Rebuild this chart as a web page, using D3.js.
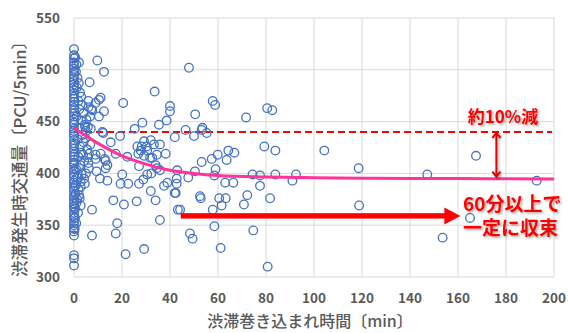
<!DOCTYPE html>
<html>
<head>
<meta charset="utf-8">
<script src="https://cdn.jsdelivr.net/npm/d3@7"></script>
<style>
  body { margin: 0; background: #fff; }
  text { font-family: "Noto Sans CJK JP", "Noto Sans", sans-serif; }
</style>
</head>
<body>
<div id="canvas"></div>
<script>
"use strict";

/* Data: tick labels */
let xTickValues = [0, 20, 40, 60, 80, 100, 120, 140, 160, 180, 200];
let yTickValues = [300, 350, 400, 450, 500, 550];

/* Data: traffic volume of points sitting at 0 min */
let zeroMinVolume = [
  311, 318, 321, 340, 344, 347, 350, 353, 357, 359, 362, 366, 368, 371, 374, 377,
  379, 383, 386, 388, 391, 393, 397, 399, 402, 404, 408, 410, 413, 416, 418, 421,
  424, 427, 429, 432, 436, 438, 441, 443, 447, 449, 452, 455, 458, 461, 463, 466,
  469, 472, 474, 477, 480, 483, 486, 489, 492, 495, 498, 501, 504, 507, 511, 514, 520
];

/* Data: other points [minutes, volume] */
let scatterPoints = [
  [0.5, 512], [1, 505], [2.1, 507], [0.8, 498], [1.5, 492], [2, 487], [1.2, 483], [2.5, 478],
  [3, 474], [1.8, 470], [3.5, 466], [2.2, 462], [4, 458], [1, 455], [3, 451], [4.5, 447],
  [2, 444], [5, 441], [3.5, 437], [1.5, 433], [4, 430], [2.5, 426], [5.5, 423], [3, 420],
  [1.8, 416], [4.2, 412], [2.6, 408], [0.9, 404], [3.2, 399], [1.4, 396], [2.8, 392], [0.7, 388],
  [1.9, 384], [0.6, 380], [2.4, 376], [1.1, 372], [0.5, 366], [1.7, 362], [0.4, 357], [0.9, 352],
  [0.3, 346], [1.3, 375], [2.1, 405], [3.8, 418], [4.8, 434], [5.2, 452], [6, 470], [6.5, 488],
  [7.2, 462], [5.8, 445], [6.8, 428], [6, 410], [5, 400], [4.5, 390], [6, 464], [6.7, 455],
  [4.6, 445], [12.2, 439], [28.2, 426], [34.5, 418], [26.8, 419],
  [9.7, 509], [12.5, 498], [33.6, 479], [20.5, 468], [40, 465], [40, 460], [10.4, 471],
  [11.1, 473], [9, 468], [12.5, 460], [10.4, 455], [7.6, 461], [28.5, 449], [38.6, 451],
  [35.4, 447], [25.3, 443], [42, 435], [11.8, 440], [7, 443], [19.2, 436], [15.3, 430],
  [26.4, 426], [29.2, 431], [32, 432], [30.3, 426], [33.3, 428], [35.8, 428], [27.8, 422],
  [30.5, 422], [29.2, 417], [31.7, 415], [38.2, 419], [11.1, 419], [9, 418], [5.8, 415],
  [12.8, 414], [17.4, 419], [22.2, 416],
  [47.9, 502], [57.8, 470], [58.8, 466], [50.5, 457], [71.7, 454], [80.5, 463], [82.6, 461],
  [46.5, 442], [50, 436], [53.5, 444], [53.2, 442], [55.3, 439], [79.3, 426], [83.9, 422],
  [64.3, 422], [66.8, 420], [63.6, 413], [59.9, 418], [57.4, 414], [53.2, 411], [59, 404],
  [50.4, 402], [43, 403], [74.4, 399], [77.5, 398], [83.9, 399], [58.5, 398], [47.6, 396],
  [42.8, 395],
  [42.8, 390], [42, 381], [63, 391], [66.4, 391], [77.5, 388], [52.5, 378], [52.8, 376],
  [60.5, 376], [63.2, 376], [61.5, 369], [72.2, 379], [70.8, 370], [81.7, 376], [44.2, 365],
  [57.8, 365], [58.5, 349], [48.3, 342], [49.4, 337], [74.7, 345], [61.1, 328], [80.7, 310],
  [6.2, 419], [9, 414], [13.2, 412], [13.9, 408], [13.2, 405], [9.4, 402], [6.2, 405],
  [10.8, 395], [13.9, 393], [4.2, 395], [2.8, 387], [2.1, 379], [2.8, 369], [7.5, 365],
  [7.5, 340], [18, 352], [17.4, 342], [21.5, 322], [29.2, 327], [16.4, 374], [20.8, 370],
  [26.1, 373], [20.1, 399], [19.4, 390], [22.6, 390], [27.1, 390], [28.9, 394], [30.5, 399],
  [32.2, 400], [34.5, 405], [35.8, 403], [34, 408], [32.6, 415], [27.1, 407], [37.5, 388],
  [38.9, 391], [32, 383], [34, 374], [35.8, 355], [42.4, 381], [43.3, 365],
  [104.3, 422], [92.5, 399], [91, 393], [118.6, 405], [118.8, 369],
  [147.2, 399], [192.8, 393], [165, 357], [153.6, 338], [167.5, 417]
];

/* Data: trend curve */
let trendMin = [0, 5, 10, 20, 30, 40, 50, 60, 80, 100, 120, 140, 160, 180, 200];
let trendVolume = [444, 436, 429, 417, 409, 403, 400, 398, 396.5, 395.8, 395.3, 395, 395, 394.8, 394.6];

/* Data: annotations */
let dashedLevel = 440;
let convergedLevel = 395;
let gapArrowMin = 176;
let longArrowMin = [44.5, 161];
let longArrowLevel = 359;
let reduceLabel = "約10%減";
let convergeLabel = ["60分以上で", "一定に収束"];

/* Drawing config */
let svgWidth = 568;
let svgHeight = 333;
let plotLeft = 74;
let plotRight = 554;
let plotTop = 18;
let plotBottom = 277;
let gray = "#595959";

let svg = d3.select("#canvas")
  .append("svg")
  .attr("width", svgWidth)
  .attr("height", svgHeight);

let defs = svg.append("defs");
let shadow = defs.append("filter")
  .attr("id", "shadow")
  .attr("x", "-20%").attr("y", "-20%")
  .attr("width", "140%").attr("height", "140%");
shadow.append("feDropShadow")
  .attr("dx", 1.5).attr("dy", 1.5)
  .attr("stdDeviation", 1)
  .attr("flood-color", "#000")
  .attr("flood-opacity", 0.35);

let xScale = d3.scaleLinear().domain([0, 200]).range([plotLeft, plotRight]);
let yScale = d3.scaleLinear().domain([300, 550]).range([plotBottom, plotTop]);

/* Grid */
svg.append("g")
  .selectAll("line")
  .data(xTickValues)
  .enter()
  .append("line")
  .attr("x1", function (d) { return xScale(d); })
  .attr("x2", function (d) { return xScale(d); })
  .attr("y1", plotTop)
  .attr("y2", plotBottom)
  .attr("stroke", "#d9d9d9")
  .attr("stroke-width", 1);

svg.append("g")
  .selectAll("line")
  .data(yTickValues)
  .enter()
  .append("line")
  .attr("x1", plotLeft)
  .attr("x2", plotRight)
  .attr("y1", function (d) { return yScale(d); })
  .attr("y2", function (d) { return yScale(d); })
  .attr("stroke", "#d9d9d9")
  .attr("stroke-width", 1);

/* Tick labels */
svg.append("g")
  .selectAll("text")
  .data(xTickValues)
  .enter()
  .append("text")
  .attr("x", function (d) { return xScale(d); })
  .attr("y", 303)
  .attr("text-anchor", "middle")
  .attr("font-size", "13.5px")
  .attr("font-weight", "bold")
  .attr("fill", gray)
  .text(function (d) { return String(d); });

svg.append("g")
  .selectAll("text")
  .data(yTickValues)
  .enter()
  .append("text")
  .attr("x", 60)
  .attr("y", function (d) { return yScale(d) + 4.5; })
  .attr("text-anchor", "end")
  .attr("font-size", "13.5px")
  .attr("font-weight", "bold")
  .attr("fill", gray)
  .text(function (d) { return String(d); });

/* Axis titles */
svg.append("text")
  .attr("x", 310)
  .attr("y", 327)
  .attr("text-anchor", "middle")
  .attr("font-size", "16px")
  .attr("font-weight", 500)
  .attr("fill", gray)
  .text("渋滞巻き込まれ時間〔min〕");

svg.append("text")
  .attr("transform", "translate(26," + 155 + ") rotate(-90)")
  .attr("text-anchor", "middle")
  .attr("font-size", "16.5px")
  .attr("font-weight", 500)
  .attr("fill", gray)
  .text("渋滞発生時交通量〔PCU/5min〕");

/* Dashed reference line */
svg.append("line")
  .attr("x1", plotLeft)
  .attr("x2", plotRight - 2)
  .attr("y1", yScale(dashedLevel))
  .attr("y2", yScale(dashedLevel))
  .attr("stroke", "#ff0000")
  .attr("stroke-width", 2)
  .attr("stroke-dasharray", "7,4");

/* Points */
let allPoints = zeroMinVolume.map(function (v) { return [0, v]; }).concat(scatterPoints);
svg.append("g")
  .selectAll("circle")
  .data(allPoints)
  .enter()
  .append("circle")
  .attr("cx", function (d) { return xScale(d[0]); })
  .attr("cy", function (d) { return yScale(d[1]); })
  .attr("r", 4.3)
  .attr("fill", "none")
  .attr("stroke", "#4472c4")
  .attr("stroke-width", 1.3);

/* Trend curve */
let trendLine = d3.line()
  .x(function (d, i) { return xScale(trendMin[i]); })
  .y(function (d) { return yScale(d); })
  .curve(d3.curveMonotoneX);

svg.append("path")
  .attr("d", trendLine(trendVolume))
  .attr("fill", "none")
  .attr("stroke", "#ff3399")
  .attr("stroke-width", 3);

/* Gap arrow (double headed) */
let gx = xScale(gapArrowMin);
let gTop = yScale(dashedLevel) + 1;
let gBottom = yScale(convergedLevel) - 2;
let gapArrow = svg.append("g")
  .attr("stroke", "#e00000")
  .attr("stroke-width", 2)
  .attr("fill", "none")
  .attr("filter", "url(#shadow)");
gapArrow.append("line")
  .attr("x1", gx).attr("x2", gx)
  .attr("y1", gTop).attr("y2", gBottom);
gapArrow.append("path")
  .attr("d", "M" + (gx - 4) + "," + (gTop + 5) + "L" + gx + "," + gTop + "L" + (gx + 4) + "," + (gTop + 5));
gapArrow.append("path")
  .attr("d", "M" + (gx - 4) + "," + (gBottom - 5) + "L" + gx + "," + gBottom + "L" + (gx + 4) + "," + (gBottom - 5));

/* Long arrow */
let ax1 = xScale(longArrowMin[0]);
let ax2 = xScale(longArrowMin[1]);
let ay = yScale(longArrowLevel);
svg.append("rect")
  .attr("x", ax1)
  .attr("y", ay - 2.7)
  .attr("width", ax2 - 15 - ax1)
  .attr("height", 5.4)
  .attr("fill", "#ff0000");
svg.append("path")
  .attr("d", "M" + (ax2 - 16) + "," + (ay - 8.5) + "L" + ax2 + "," + ay + "L" + (ax2 - 16) + "," + (ay + 8.5) + "Z")
  .attr("fill", "#ff0000");

/* Annotation texts */
svg.append("text")
  .attr("x", 503)
  .attr("y", 123)
  .attr("text-anchor", "middle")
  .attr("font-size", "17px")
  .attr("font-weight", "bold")
  .attr("fill", "#ff0000")
  .attr("filter", "url(#shadow)")
  .text(reduceLabel);

svg.append("g")
  .selectAll("text")
  .data(convergeLabel)
  .enter()
  .append("text")
  .attr("x", 463)
  .attr("y", function (d, i) { return 211 + i * 24; })
  .attr("font-size", "19px")
  .attr("font-weight", "bold")
  .attr("fill", "#ff0000")
  .attr("filter", "url(#shadow)")
  .text(function (d) { return d; });
</script>
</body>
</html>
